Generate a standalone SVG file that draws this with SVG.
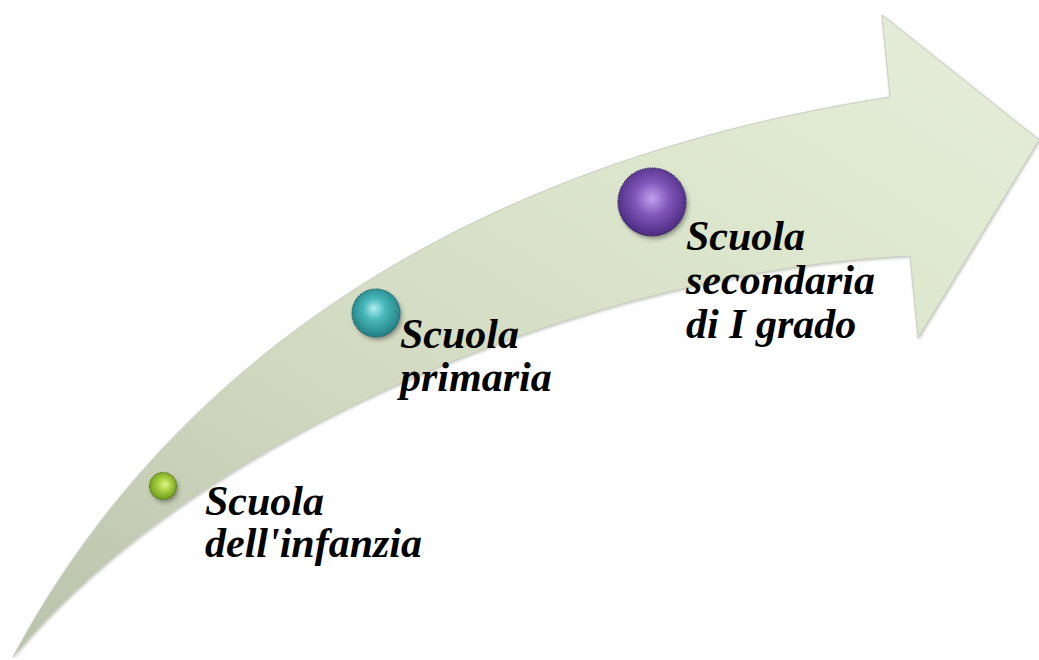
<svg xmlns="http://www.w3.org/2000/svg" width="1039" height="660" viewBox="0 0 1039 660">
  <style>
    .lbl { font-family: "Liberation Serif", "Times New Roman", serif; font-size: 42px; font-weight: bold; font-style: italic; fill: #000000; }
    .ring { stroke-width: 1.2; stroke-dasharray: 1.5 1; }
  </style>
  <defs>
    <linearGradient id="arrowFill" x1="0" y1="1" x2="1" y2="0">
      <stop offset="0" stop-color="#b9c2aa"/>
      <stop offset="0.35" stop-color="#d0d9c0"/>
      <stop offset="0.7" stop-color="#dde7cd"/>
      <stop offset="1" stop-color="#e6eedb"/>
    </linearGradient>
    <filter id="soft" x="-5%" y="-5%" width="110%" height="110%">
      <feGaussianBlur in="SourceAlpha" stdDeviation="1.5"/>
      <feOffset dx="1" dy="1" result="b"/>
      <feFlood flood-color="#8a8f80" flood-opacity="0.5"/>
      <feComposite in2="b" operator="in"/>
      <feMerge><feMergeNode/><feMergeNode in="SourceGraphic"/></feMerge>
    </filter>
    <filter id="ballShadow" x="-30%" y="-30%" width="160%" height="160%">
      <feGaussianBlur in="SourceAlpha" stdDeviation="2"/>
      <feOffset dx="1.5" dy="2.5" result="b"/>
      <feFlood flood-color="#303030" flood-opacity="0.45"/>
      <feComposite in2="b" operator="in"/>
      <feMerge><feMergeNode/><feMergeNode in="SourceGraphic"/></feMerge>
    </filter>
    <radialGradient id="gGreen" cx="0.5" cy="0.45" r="0.55" fx="0.6" fy="0.45">
      <stop offset="0" stop-color="#dff58f"/>
      <stop offset="0.45" stop-color="#a9d040"/>
      <stop offset="1" stop-color="#6e9a1c"/>
    </radialGradient>
    <radialGradient id="gTeal" cx="0.5" cy="0.45" r="0.55" fx="0.45" fy="0.4">
      <stop offset="0" stop-color="#b3eeee"/>
      <stop offset="0.4" stop-color="#49b9bb"/>
      <stop offset="1" stop-color="#217f84"/>
    </radialGradient>
    <radialGradient id="gPurple" cx="0.5" cy="0.45" r="0.55" fx="0.5" fy="0.45">
      <stop offset="0" stop-color="#c2a0ec"/>
      <stop offset="0.45" stop-color="#8257bb"/>
      <stop offset="1" stop-color="#4b2b80"/>
    </radialGradient>
  </defs>

  <rect width="1039" height="660" fill="#ffffff"/>

  <g id="arrow" filter="url(#soft)">
    <path d="M13,657 C150,400 420,170 890,97 L882,15 L1039,140 L918,338 L910,256 C600,270 200,430 13,657 Z"
          fill="url(#arrowFill)" stroke="#c9cebf" stroke-width="1"/>
  </g>

  <g id="connectors"></g>

  <g id="node-infanzia">
    <circle cx="163" cy="486" r="13.5" fill="url(#gGreen)" filter="url(#ballShadow)"/>
    <circle cx="163" cy="486" r="13.5" fill="none" stroke="#5a7a18" class="ring"/>
    <text class="lbl" x="205" y="515">Scuola</text>
    <text class="lbl" x="205" y="557">dell'infanzia</text>
  </g>

  <g id="node-primaria">
    <circle cx="376" cy="313" r="24" fill="url(#gTeal)" filter="url(#ballShadow)"/>
    <circle cx="376" cy="313" r="24" fill="none" stroke="#1e6468" class="ring"/>
    <text class="lbl" x="400" y="348">Scuola</text>
    <text class="lbl" x="400" y="391">primaria</text>
  </g>

  <g id="node-secondaria">
    <circle cx="652" cy="202" r="34" fill="url(#gPurple)" filter="url(#ballShadow)"/>
    <circle cx="652" cy="202" r="34" fill="none" stroke="#3a2266" class="ring"/>
    <text class="lbl" x="686" y="250">Scuola</text>
    <text class="lbl" x="686" y="294">secondaria</text>
    <text class="lbl" x="686" y="338">di I grado</text>
  </g>
</svg>
